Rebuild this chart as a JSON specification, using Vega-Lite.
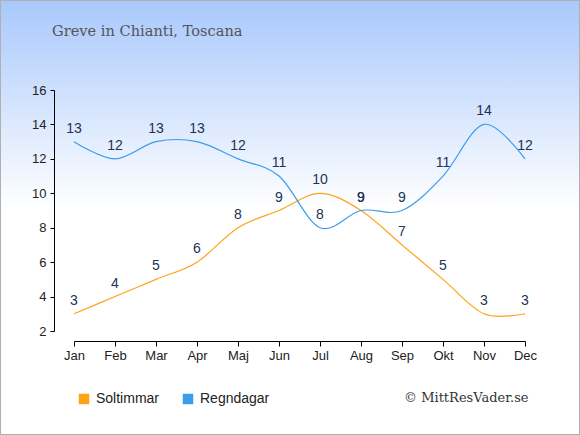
{
  "$schema": "https://vega.github.io/schema/vega-lite/v6.json",
  "width": 580,
  "height": 435,
  "autosize": {"type": "none"},
  "padding": 0,
  "title": {
    "text": "Greve in Chianti, Toscana",
    "anchor": "start",
    "frame": "group",
    "offset": 0,
    "dx": 52,
    "dy": 47,
    "baseline": "middle",
    "font": "DejaVu Serif",
    "fontSize": 14.6,
    "fontWeight": "normal",
    "color": "#555555"
  },
  "data": {
    "values": [
      {"month": "Jan", "series": "Soltimmar", "value": 3},
      {"month": "Feb", "series": "Soltimmar", "value": 4},
      {"month": "Mar", "series": "Soltimmar", "value": 5},
      {"month": "Apr", "series": "Soltimmar", "value": 6},
      {"month": "Maj", "series": "Soltimmar", "value": 8},
      {"month": "Jun", "series": "Soltimmar", "value": 9},
      {"month": "Jul", "series": "Soltimmar", "value": 10},
      {"month": "Aug", "series": "Soltimmar", "value": 9},
      {"month": "Sep", "series": "Soltimmar", "value": 7},
      {"month": "Okt", "series": "Soltimmar", "value": 5},
      {"month": "Nov", "series": "Soltimmar", "value": 3},
      {"month": "Dec", "series": "Soltimmar", "value": 3},
      {"month": "Jan", "series": "Regndagar", "value": 13},
      {"month": "Feb", "series": "Regndagar", "value": 12},
      {"month": "Mar", "series": "Regndagar", "value": 13},
      {"month": "Apr", "series": "Regndagar", "value": 13},
      {"month": "Maj", "series": "Regndagar", "value": 12},
      {"month": "Jun", "series": "Regndagar", "value": 11},
      {"month": "Jul", "series": "Regndagar", "value": 8},
      {"month": "Aug", "series": "Regndagar", "value": 9},
      {"month": "Sep", "series": "Regndagar", "value": 9},
      {"month": "Okt", "series": "Regndagar", "value": 11},
      {"month": "Nov", "series": "Regndagar", "value": 14},
      {"month": "Dec", "series": "Regndagar", "value": 12}
    ]
  },
  "encoding": {
    "x": {
      "field": "month",
      "type": "ordinal",
      "sort": ["Jan", "Feb", "Mar", "Apr", "Maj", "Jun", "Jul", "Aug", "Sep", "Okt", "Nov", "Dec"],
      "scale": {"type": "point", "padding": 0, "range": [74, 525]},
      "axis": {
        "title": "© MittResVader.se",
        "titleX": 528,
        "titleY": 56,
        "titleAlign": "right",
        "titleBaseline": "middle",
        "titleFont": "DejaVu Serif",
        "titleFontSize": 13,
        "titleFontWeight": "normal",
        "titleColor": "#333333",
        "offset": -94,
        "labelAngle": 0,
        "labelPadding": 3,
        "tickSize": 5,
        "grid": false
      }
    },
    "y": {
      "field": "value",
      "type": "quantitative",
      "scale": {"domain": [2, 16], "range": [331, 90], "nice": false, "zero": false},
      "axis": {
        "title": null,
        "offset": -54,
        "values": [2, 4, 6, 8, 10, 12, 14, 16],
        "tickSize": 4,
        "labelPadding": 4,
        "grid": false
      }
    }
  },
  "layer": [
    {
      "mark": {"type": "line", "interpolate": "cardinal", "strokeWidth": 1.2},
      "encoding": {
        "color": {
          "field": "series",
          "type": "nominal",
          "scale": {"domain": ["Soltimmar", "Regndagar"], "range": ["#ffa31a", "#3b9cec"]},
          "legend": {
            "title": null,
            "orient": "none",
            "legendX": 77,
            "legendY": 392,
            "direction": "horizontal",
            "symbolType": "square",
            "symbolSize": 110,
            "symbolStrokeWidth": 0,
            "symbolOpacity": 1,
            "labelFontSize": 14,
            "labelFont": "Liberation Sans",
            "labelColor": "#222222",
            "labelOffset": 5,
            "columnPadding": 21,
            "encode": {
              "symbols": {
                "update": {
                  "fill": {"scale": "color", "field": "value"},
                  "fillOpacity": {"value": 1}
                }
              }
            }
          }
        }
      }
    },
    {
      "mark": {
        "type": "text",
        "dy": -13,
        "baseline": "middle",
        "fontSize": 14,
        "font": "Liberation Sans",
        "color": "#223355"
      },
      "encoding": {
        "text": {"field": "value", "type": "quantitative"}
      }
    }
  ],
  "config": {
    "view": {
      "fill": {
        "gradient": "linear",
        "x1": 0, "y1": 0, "x2": 0, "y2": 1,
        "stops": [
          {"offset": 0, "color": "#a8c8fc"},
          {"offset": 0.48, "color": "#ffffff"},
          {"offset": 1, "color": "#ffffff"}
        ]
      },
      "stroke": "#b0b0b0",
      "strokeWidth": 2
    },
    "axis": {
      "domainColor": "#000000",
      "tickColor": "#000000",
      "labelColor": "#222222",
      "labelFont": "Liberation Sans",
      "labelFontSize": 13
    }
  }
}
